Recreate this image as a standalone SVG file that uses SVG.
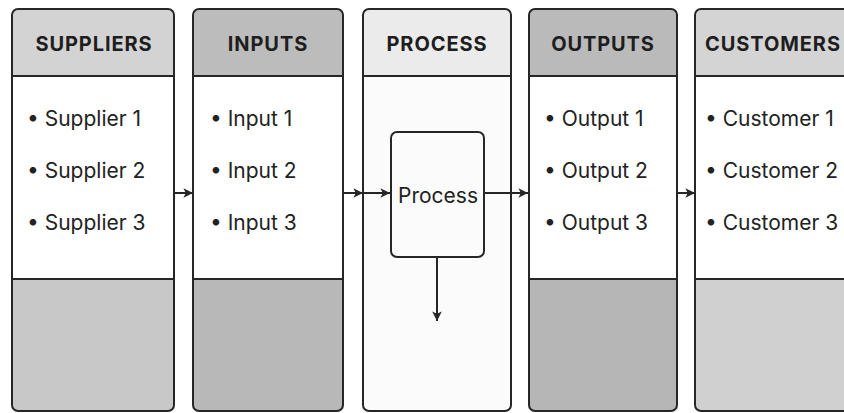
<svg xmlns="http://www.w3.org/2000/svg" width="844" height="413" viewBox="0 0 844 413">
  <style>
    .frame { fill: none; stroke: #262626; stroke-width: 2; }
    .rule { stroke: #262626; stroke-width: 2; }
    .head { font-family: Inter, "Liberation Sans", sans-serif; font-weight: 700; font-size: 20px; fill: #1e1e1e; text-anchor: middle; letter-spacing: 0.9px; }
    .item { font-family: Inter, "Liberation Sans", sans-serif; font-size: 21px; fill: #222222; }
    .conn { stroke: #262626; stroke-width: 2; fill: none; }
  </style>
  <defs>
    <marker id="arrow" viewBox="0 0 10 10" refX="9" refY="5" markerWidth="12" markerHeight="12" markerUnits="userSpaceOnUse" orient="auto">
      <path d="M1,1 L9,5 L1,9 L3,5 Z" fill="#262626"/>
    </marker>
    <clipPath id="clip-c1"><rect x="12" y="9" width="162" height="402" rx="6"/></clipPath>
    <clipPath id="clip-c2"><rect x="193" y="9" width="150" height="402" rx="6"/></clipPath>
    <clipPath id="clip-c3"><rect x="363" y="9" width="148" height="402" rx="6"/></clipPath>
    <clipPath id="clip-c4"><rect x="529" y="9" width="148" height="402" rx="6"/></clipPath>
    <clipPath id="clip-c5"><rect x="695" y="9" width="160" height="402" rx="6"/></clipPath>
  </defs>

  <rect width="844" height="413" fill="#ffffff"/>

  <!-- Suppliers column -->
  <g id="suppliers">
    <g clip-path="url(#clip-c1)">
      <rect x="12" y="9" width="162" height="67" fill="#d3d3d3"/>
      <rect x="12" y="76" width="162" height="203" fill="#ffffff"/>
      <rect x="12" y="279" width="162" height="132" fill="#c8c8c8"/>
    </g>
    <rect class="frame" x="12" y="9" width="162" height="402" rx="6"/>
    <line class="rule" x1="12" y1="76" x2="174" y2="76"/>
    <line class="rule" x1="12" y1="279" x2="174" y2="279"/>
    <text class="head" x="94" y="51">SUPPLIERS</text>
    <text class="item" x="27" y="126">• Supplier 1</text>
    <text class="item" x="27" y="178">• Supplier 2</text>
    <text class="item" x="27" y="230">• Supplier 3</text>
  </g>

  <!-- Inputs column -->
  <g id="inputs">
    <g clip-path="url(#clip-c2)">
      <rect x="193" y="9" width="150" height="67" fill="#bcbcbc"/>
      <rect x="193" y="76" width="150" height="203" fill="#ffffff"/>
      <rect x="193" y="279" width="150" height="132" fill="#b8b8b8"/>
    </g>
    <rect class="frame" x="193" y="9" width="150" height="402" rx="6"/>
    <line class="rule" x1="193" y1="76" x2="343" y2="76"/>
    <line class="rule" x1="193" y1="279" x2="343" y2="279"/>
    <text class="head" x="268" y="51">INPUTS</text>
    <text class="item" x="210" y="126">• Input 1</text>
    <text class="item" x="210" y="178">• Input 2</text>
    <text class="item" x="210" y="230">• Input 3</text>
  </g>

  <!-- Process column -->
  <g id="process-column">
    <g clip-path="url(#clip-c3)">
      <rect x="363" y="9" width="148" height="67" fill="#ebebeb"/>
      <rect x="363" y="76" width="148" height="335" fill="#fbfbfb"/>
    </g>
    <rect class="frame" x="363" y="9" width="148" height="402" rx="6"/>
    <line class="rule" x1="363" y1="76" x2="511" y2="76"/>
    <text class="head" x="437" y="51">PROCESS</text>
  </g>

  <!-- Process step box -->
  <g id="process-step">
    <rect class="frame" x="391" y="132" width="93" height="125" rx="6" fill="#ffffff"/>
    <text class="item" x="438" y="203" text-anchor="middle">Process</text>
  </g>

  <!-- Outputs column -->
  <g id="outputs">
    <g clip-path="url(#clip-c4)">
      <rect x="529" y="9" width="148" height="67" fill="#bababa"/>
      <rect x="529" y="76" width="148" height="203" fill="#ffffff"/>
      <rect x="529" y="279" width="148" height="132" fill="#b6b6b6"/>
    </g>
    <rect class="frame" x="529" y="9" width="148" height="402" rx="6"/>
    <line class="rule" x1="529" y1="76" x2="677" y2="76"/>
    <line class="rule" x1="529" y1="279" x2="677" y2="279"/>
    <text class="head" x="603" y="51">OUTPUTS</text>
    <text class="item" x="544" y="126">• Output 1</text>
    <text class="item" x="544" y="178">• Output 2</text>
    <text class="item" x="544" y="230">• Output 3</text>
  </g>

  <!-- Customers column -->
  <g id="customers">
    <g clip-path="url(#clip-c5)">
      <rect x="695" y="9" width="160" height="67" fill="#d4d4d4"/>
      <rect x="695" y="76" width="160" height="203" fill="#ffffff"/>
      <rect x="695" y="279" width="160" height="132" fill="#d0d0d0"/>
    </g>
    <rect class="frame" x="695" y="9" width="160" height="402" rx="6"/>
    <line class="rule" x1="695" y1="76" x2="855" y2="76"/>
    <line class="rule" x1="695" y1="279" x2="855" y2="279"/>
    <text class="head" x="773" y="51">CUSTOMERS</text>
    <text class="item" x="705" y="126">• Customer 1</text>
    <text class="item" x="705" y="178">• Customer 2</text>
    <text class="item" x="705" y="230">• Customer 3</text>
  </g>

  <!-- Connectors -->
  <g id="connectors">
    <line class="conn" x1="174" y1="193" x2="193" y2="193" marker-end="url(#arrow)"/>
    <line class="conn" x1="343" y1="193" x2="363" y2="193" marker-end="url(#arrow)"/>
    <line class="conn" x1="363" y1="193" x2="390" y2="193" marker-end="url(#arrow)"/>
    <line class="conn" x1="484" y1="193" x2="528" y2="193" marker-end="url(#arrow)"/>
    <line class="conn" x1="677" y1="193" x2="695" y2="193" marker-end="url(#arrow)"/>
    <line class="conn" x1="437" y1="257" x2="437" y2="321" marker-end="url(#arrow)"/>
  </g>
</svg>
